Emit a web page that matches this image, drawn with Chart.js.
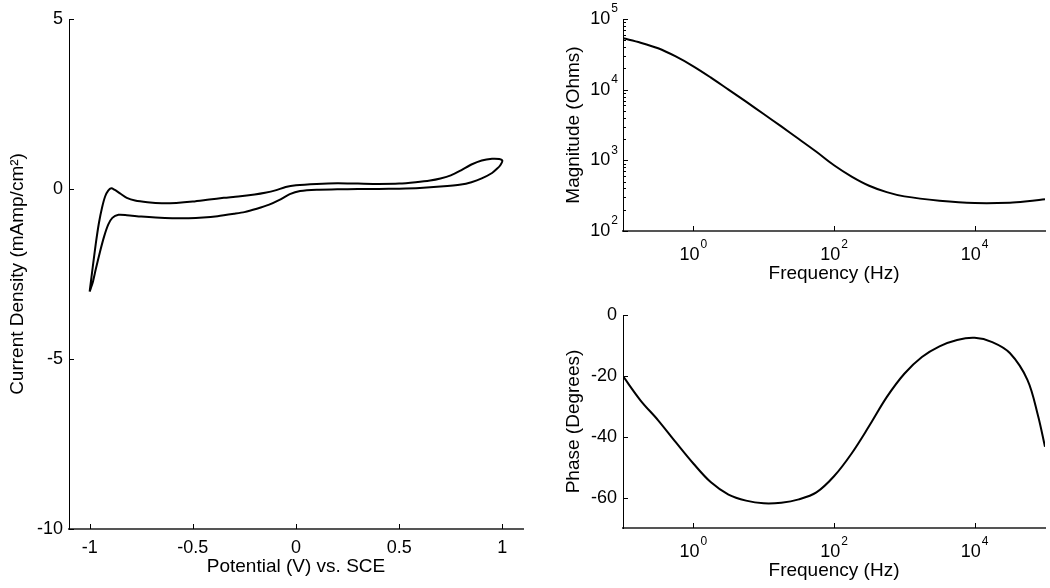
<!DOCTYPE html>
<html><head><meta charset="utf-8">
<script src="https://cdn.jsdelivr.net/npm/chart.js@4.4.1/dist/chart.umd.min.js"></script>
<style>
html,body{margin:0;padding:0;background:#fff;}
#wrap{position:relative;width:1050px;height:588px;overflow:hidden;background:#fff}
canvas{position:absolute;left:0;top:0}
</style></head><body>
<div id="wrap">
<canvas id="cv" width="1050" height="588"></canvas>
<canvas id="mag" width="1050" height="588"></canvas>
<canvas id="ph" width="1050" height="588"></canvas>
</div>
<script>
// ---- Cyclic voltammogram (closed loop) ----
const CV_POTENTIAL = [
  -1.0,-0.985,-0.97,-0.955,-0.94,-0.925,-0.91,-0.895,-0.88,-0.85,-0.82,-0.78,-0.72,-0.65,-0.58,-0.5,-0.42,-0.35,-0.28,-0.2,-0.15,-0.1,-0.05,0.0,0.1,0.2,0.3,0.4,0.5,0.58,0.65,0.7,0.75,0.8,0.85,0.9,0.95,0.985,1.0,
  0.99,0.975,0.95,0.9,0.85,0.8,0.7,0.6,0.5,0.4,0.3,0.2,0.1,0.02,-0.03,-0.08,-0.13,-0.19,-0.25,-0.3,-0.38,-0.45,-0.52,-0.6,-0.68,-0.75,-0.82,-0.86,-0.89,-0.91,-0.93,-0.95,-0.97,-0.985,-1.0
];
const CV_CURRENT = [
  -3.02,-2.3,-1.6,-1.0,-0.55,-0.22,-0.05,0.02,-0.02,-0.14,-0.26,-0.34,-0.39,-0.42,-0.41,-0.37,-0.31,-0.26,-0.22,-0.16,-0.11,-0.04,0.06,0.11,0.15,0.17,0.16,0.15,0.16,0.2,0.25,0.31,0.40,0.55,0.72,0.84,0.89,0.88,0.83,
  0.7,0.6,0.47,0.31,0.2,0.13,0.07,0.03,0.01,0.0,0.0,-0.01,-0.02,-0.06,-0.15,-0.32,-0.46,-0.58,-0.68,-0.73,-0.8,-0.84,-0.86,-0.86,-0.84,-0.81,-0.77,-0.76,-0.85,-1.05,-1.4,-1.85,-2.35,-2.75,-3.02
];
const CV_X_TICKS = [-1, -0.5, 0, 0.5, 1];
const CV_X_LABELS = ['-1', '-0.5', '0', '0.5', '1'];
const CV_Y_TICKS = [-10, -5, 0, 5];
const CV_Y_LABELS = ['-10', '-5', '0', '5'];

// ---- Bode magnitude ----
const MAG_FREQ = [0.1,0.178,0.316,0.562,1,1.78,3.16,5.62,10,17.8,31.6,56.2,100,178,316,562,1000,3162,10000,31623,56234,100000];
const MAGNITUDE = [53300,46200,38500,29500,21400,14800,10000,6760,4520,3020,2000,1320,851,589,437,355,309,269,249,251,263,282];
const MAG_TICKS = [100, 1000, 10000, 100000];
const MAG_EXPONENTS = ['2', '3', '4', '5'];
const MAG_MINOR_TICKS = [200,300,400,500,600,700,800,900,2000,3000,4000,5000,6000,7000,8000,9000,20000,30000,40000,50000,60000,70000,80000,90000];

// ---- Bode phase ----
const PHASE_FREQ = [0.1,0.178,0.316,0.562,1,1.78,3.16,5.62,10,17.8,31.6,56.2,100,178,316,562,1000,1778,3162,5623,10000,17783,31623,56234,79433,100000];
const PHASE = [-20.1,-28.1,-34.6,-41.8,-48.8,-55.0,-59.0,-61.0,-61.9,-61.7,-60.6,-58.3,-53.0,-45.5,-36.5,-27.0,-19.3,-13.8,-10.3,-8.2,-7.5,-8.9,-12.5,-21.3,-33.0,-43.3];
const PHASE_TICKS = [-60, -40, -20, 0];
const PHASE_LABELS = ['-60', '-40', '-20', '0'];

// ---- Frequency axis ----
const FREQ_TICKS = [1, 100, 10000];
const FREQ_EXPONENTS = ['0', '2', '4'];

const FAMILY = "'Liberation Sans', Arial, Helvetica, sans-serif";
const TICK_FONT = {family: FAMILY, size: 18};
const TITLE_FONT = {family: FAMILY, size: 19};

// inward tick marks drawn at the library's tick positions
const inwardTicks = {
  id: 'inwardTicks',
  afterDraw(chart) {
    const ctx = chart.ctx, a = chart.chartArea;
    ctx.save();
    ctx.strokeStyle = '#000';
    ctx.lineWidth = 1;
    Object.values(chart.scales).forEach(s => {
      s.ticks.forEach(t => {
        const len = t.minor ? 3 : 5;
        const p = Math.round(s.getPixelForValue(t.value)) + 0.5;
        ctx.beginPath();
        if (s.isHorizontal()) { ctx.moveTo(p, a.bottom); ctx.lineTo(p, a.bottom - len); }
        else { ctx.moveTo(a.left, p); ctx.lineTo(a.left + len, p); }
        ctx.stroke();
      });
    });
    ctx.restore();
  }
};

// power-of-ten labels with superscript exponents
function powerLabels(items) {
  return {
    id: 'powerLabels',
    afterDraw(chart) {
      const ctx = chart.ctx, a = chart.chartArea;
      const baseFont = '18px ' + FAMILY, expFont = '12px ' + FAMILY;
      ctx.save();
      ctx.fillStyle = '#000';
      ctx.textBaseline = 'middle';
      ctx.textAlign = 'left';
      items.forEach(it => {
        const s = chart.scales[it.scale];
        it.values.forEach((v, i) => {
          const e = it.exponents[i];
          const p = s.getPixelForValue(v);
          ctx.font = baseFont; const wb = ctx.measureText('10').width;
          ctx.font = expFont; const we = ctx.measureText(e).width;
          let x, y;
          if (s.isHorizontal()) { x = p - (wb + we + 1) / 2; y = a.bottom + 24; }
          else { x = a.left - 5 - (wb + we + 1); y = p; }
          ctx.font = baseFont; ctx.fillText('10', x, y);
          ctx.font = expFont; ctx.fillText(e, x + wb + 1, y - 10);
        });
      });
      ctx.restore();
    }
  };
}

const common = {
  responsive: false, animation: false, devicePixelRatio: 1,
  plugins: {legend: {display: false}, tooltip: {enabled: false}},
  elements: {point: {radius: 0}}
};

function lineSet(xs, ys, tension) {
  return {
    data: xs.map((x, i) => ({x: x, y: ys[i]})),
    showLine: true, borderColor: '#000', borderWidth: 2, pointRadius: 0,
    tension: tension, fill: false
  };
}

// ---- Left: CV ----
new Chart(document.getElementById('cv'), {
  type: 'scatter',
  data: {datasets: [lineSet(CV_POTENTIAL, CV_CURRENT, 0.25)]},
  options: Object.assign({}, common, {
    layout: {padding: {left: 0, top: 19, right: 527, bottom: 0}},
    scales: {
      x: {
        type: 'linear', position: 'bottom', min: -1.1, max: 1.1,
        afterBuildTicks: s => { s.ticks = CV_X_TICKS.map(v => ({value: v})); },
        afterFit: s => { s.height = 59; },
        grid: {display: false, drawTicks: false},
        border: {display: true, color: '#555', width: 2},
        ticks: {padding: 8, font: TICK_FONT, color: '#000', maxRotation: 0, autoSkip: false,
          callback: v => CV_X_LABELS[CV_X_TICKS.indexOf(v)]},
        title: {display: true, text: 'Potential (V) vs. SCE', font: TITLE_FONT, color: '#000', padding: {top: 0, bottom: 10}}
      },
      y: {
        type: 'linear', position: 'left', min: -10, max: 5,
        afterBuildTicks: s => { s.ticks = CV_Y_TICKS.map(v => ({value: v})); },
        afterFit: s => { s.width = 69; },
        grid: {display: false, drawTicks: false},
        border: {display: true, color: '#000', width: 1},
        ticks: {padding: 6, font: TICK_FONT, color: '#000', autoSkip: false,
          callback: v => CV_Y_LABELS[CV_Y_TICKS.indexOf(v)]},
        title: {display: true, text: 'Current Density (mAmp/cm²)', font: TITLE_FONT, color: '#000', padding: {top: 6, bottom: 0}}
      }
    }
  }),
  plugins: [inwardTicks]
});

// ---- Top right: magnitude ----
new Chart(document.getElementById('mag'), {
  type: 'scatter',
  data: {datasets: [lineSet(MAG_FREQ, MAGNITUDE, 0.35)]},
  options: Object.assign({}, common, {
    layout: {padding: {left: 550, top: 19, right: 5, bottom: 297}},
    scales: {
      x: {
        type: 'logarithmic', position: 'bottom', min: 0.1, max: 100000,
        afterBuildTicks: s => { s.ticks = FREQ_TICKS.map(v => ({value: v})); },
        afterFit: s => { s.height = 60; },
        grid: {display: false, drawTicks: false},
        border: {display: true, color: '#555', width: 2},
        ticks: {display: false},
        title: {display: true, text: 'Frequency (Hz)', font: TITLE_FONT, color: '#000', padding: {top: 0, bottom: 6}}
      },
      y: {
        type: 'logarithmic', position: 'left', min: 100, max: 100000,
        afterBuildTicks: s => {
          s.ticks = MAG_TICKS.map(v => ({value: v})).concat(MAG_MINOR_TICKS.map(v => ({value: v, minor: true})));
        },
        afterFit: s => { s.width = 73; },
        grid: {display: false, drawTicks: false},
        border: {display: true, color: '#000', width: 1},
        ticks: {display: false},
        title: {display: true, text: 'Magnitude (Ohms)', font: TITLE_FONT, color: '#000', padding: {top: 12, bottom: 0}}
      }
    }
  }),
  plugins: [inwardTicks, powerLabels([
    {scale: 'x', values: FREQ_TICKS, exponents: FREQ_EXPONENTS},
    {scale: 'y', values: MAG_TICKS, exponents: MAG_EXPONENTS}
  ])]
});

// ---- Bottom right: phase ----
new Chart(document.getElementById('ph'), {
  type: 'scatter',
  data: {datasets: [lineSet(PHASE_FREQ, PHASE, 0.35)]},
  options: Object.assign({}, common, {
    layout: {padding: {left: 550, top: 315, right: 5, bottom: 0}},
    scales: {
      x: {
        type: 'logarithmic', position: 'bottom', min: 0.1, max: 100000,
        afterBuildTicks: s => { s.ticks = FREQ_TICKS.map(v => ({value: v})); },
        afterFit: s => { s.height = 60; },
        grid: {display: false, drawTicks: false},
        border: {display: true, color: '#555', width: 2},
        ticks: {display: false},
        title: {display: true, text: 'Frequency (Hz)', font: TITLE_FONT, color: '#000', padding: {top: 0, bottom: 6}}
      },
      y: {
        type: 'linear', position: 'left', min: -70, max: 0,
        afterBuildTicks: s => { s.ticks = PHASE_TICKS.map(v => ({value: v})); },
        afterFit: s => { s.width = 73; },
        grid: {display: false, drawTicks: false},
        border: {display: true, color: '#000', width: 1},
        ticks: {padding: 6, font: TICK_FONT, color: '#000', autoSkip: false,
          callback: v => PHASE_LABELS[PHASE_TICKS.indexOf(v)]},
        title: {display: true, text: 'Phase (Degrees)', font: TITLE_FONT, color: '#000', padding: {top: 12, bottom: 0}}
      }
    }
  }),
  plugins: [inwardTicks, powerLabels([
    {scale: 'x', values: FREQ_TICKS, exponents: FREQ_EXPONENTS}
  ])]
});
</script>
</body></html>
